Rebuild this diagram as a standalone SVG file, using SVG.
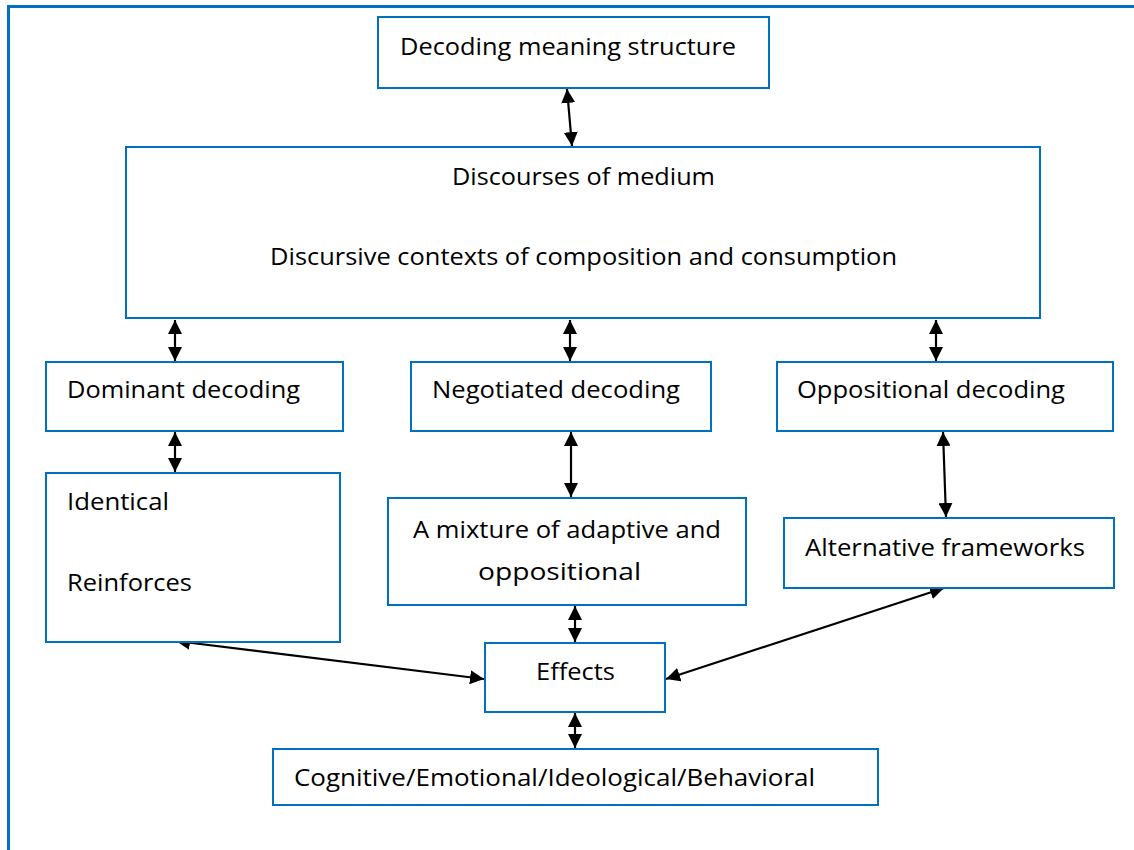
<svg xmlns="http://www.w3.org/2000/svg" width="1134" height="850" viewBox="0 0 1134 850">
<defs>
<style>
.box{fill:#fff;stroke:#0070C0;stroke-width:2}
.t{font-family:"Open Sans","Noto Sans","Liberation Sans",sans-serif;font-size:23px;fill:#000}
.c{stroke:#000;stroke-width:2.2;fill:none;marker-start:url(#a);marker-end:url(#a)}
</style>
<marker id="a" viewBox="0 0 10 10" refX="10" refY="5" markerWidth="14" markerHeight="14" markerUnits="userSpaceOnUse" orient="auto-start-reverse">
<path d="M0,0 L10,5 L0,10 z" fill="#000"/>
</marker>
</defs>
<rect width="1134" height="850" fill="#fff"/>
<path d="M8.5,850 V6.5 H1134" fill="none" stroke="#0070C0" stroke-width="3"/>
<g id="connectors">
<line class="c" x1="567" y1="89" x2="572" y2="146"/>
<line class="c" x1="175" y1="320" x2="175" y2="361"/>
<line class="c" x1="570" y1="320" x2="570" y2="361"/>
<line class="c" x1="936" y1="320" x2="936" y2="361"/>
<line class="c" x1="175" y1="432" x2="175" y2="472"/>
<line class="c" x1="571" y1="432" x2="571" y2="497"/>
<line class="c" x1="943" y1="432" x2="946" y2="517"/>
<line class="c" x1="575" y1="606" x2="575" y2="642"/>
<line class="c" x1="575" y1="713" x2="575" y2="748"/>
<line class="c" x1="176" y1="641" x2="484" y2="679"/>
<line class="c" x1="666" y1="679" x2="944" y2="588"/>
</g>
<g id="n1"><rect class="box" x="378" y="17" width="391" height="71"/><text class="t" x="400" y="55" textLength="336" lengthAdjust="spacingAndGlyphs">Decoding meaning structure</text></g>
<g id="n2"><rect class="box" x="126" y="147" width="914" height="171"/><text class="t" x="452" y="185" textLength="263" lengthAdjust="spacingAndGlyphs">Discourses of medium</text><text class="t" x="270" y="265" textLength="627" lengthAdjust="spacingAndGlyphs">Discursive contexts of composition and consumption</text></g>
<g id="n3"><rect class="box" x="46" y="362" width="297" height="69"/><text class="t" x="67" y="398" textLength="233" lengthAdjust="spacingAndGlyphs">Dominant decoding</text></g>
<g id="n4"><rect class="box" x="411" y="362" width="300" height="69"/><text class="t" x="432" y="398" textLength="248" lengthAdjust="spacingAndGlyphs">Negotiated decoding</text></g>
<g id="n5"><rect class="box" x="777" y="362" width="336" height="69"/><text class="t" x="797" y="398" textLength="268" lengthAdjust="spacingAndGlyphs">Oppositional decoding</text></g>
<g id="n6"><rect class="box" x="46" y="473" width="294" height="169"/><text class="t" x="67" y="510" textLength="102" lengthAdjust="spacingAndGlyphs">Identical</text><text class="t" x="67" y="591" textLength="125" lengthAdjust="spacingAndGlyphs">Reinforces</text></g>
<g id="n7"><rect class="box" x="388" y="498" width="358" height="107"/><text class="t" x="413" y="538" textLength="308" lengthAdjust="spacingAndGlyphs">A mixture of adaptive and</text><text class="t" x="478" y="580" textLength="163" lengthAdjust="spacingAndGlyphs">oppositional</text></g>
<g id="n8"><rect class="box" x="784" y="518" width="330" height="70"/><text class="t" x="805" y="556" textLength="280" lengthAdjust="spacingAndGlyphs">Alternative frameworks</text></g>
<g id="n9"><rect class="box" x="485" y="643" width="180" height="69"/><text class="t" x="536" y="680" textLength="79" lengthAdjust="spacingAndGlyphs">Effects</text></g>
<g id="n10"><rect class="box" x="273" y="749" width="605" height="56"/><text class="t" x="294" y="786" textLength="521" lengthAdjust="spacingAndGlyphs">Cognitive/Emotional/Ideological/Behavioral</text></g>
</svg>
